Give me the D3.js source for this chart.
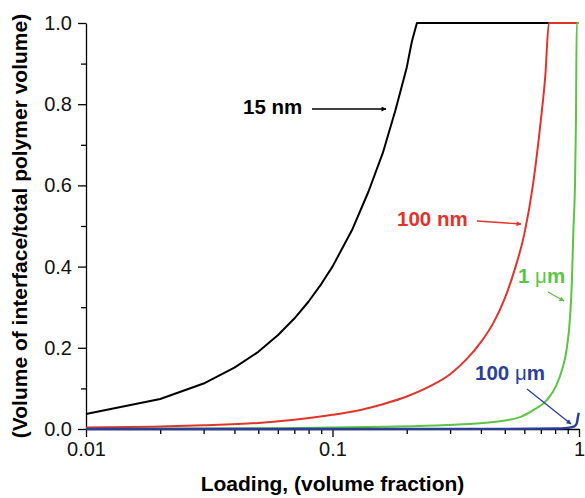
<!DOCTYPE html>
<html>
<head>
<meta charset="utf-8">
<script src="https://cdn.jsdelivr.net/npm/d3@7"></script>
<style>
  body { margin: 0; background: #fff; }
  svg text { font-family: "Liberation Sans", Arial, Helvetica, sans-serif; }
</style>
</head>
<body>
<div id="chart"></div>
<script>
// loading (volume fraction) and interface fraction
let loading15nm = [0.01, 0.02, 0.03, 0.04, 0.05, 0.06, 0.07, 0.08, 0.09, 0.1, 0.12, 0.14, 0.16, 0.18, 0.2, 0.21, 0.22, 1];
let value15nm   = [0.037, 0.074, 0.112, 0.151, 0.19, 0.231, 0.272, 0.314, 0.357, 0.40, 0.49, 0.585, 0.68, 0.785, 0.89, 0.955, 1, 1];

let loading100nm = [0.01, 0.02, 0.03, 0.05, 0.07, 0.1, 0.13, 0.16, 0.2, 0.25, 0.3, 0.35, 0.4, 0.45, 0.5, 0.55, 0.6, 0.65, 0.7, 0.73, 0.755, 1];
let value100nm   = [0.004, 0.006, 0.009, 0.015, 0.023, 0.035, 0.047, 0.061, 0.08, 0.106, 0.135, 0.172, 0.214, 0.262, 0.322, 0.395, 0.48, 0.6, 0.76, 0.87, 1, 1];

let loading1um = [0.01, 0.06, 0.16, 0.29, 0.46, 0.58, 0.65, 0.74, 0.81, 0.86, 0.89, 0.92, 0.935, 0.948, 0.963, 0.972, 0.979, 1];
let value1um   = [0.0003, 0.002, 0.0055, 0.01, 0.018, 0.03, 0.046, 0.071, 0.108, 0.153, 0.194, 0.276, 0.358, 0.481, 0.6, 0.76, 1, 1];

let loading100um = [0.01, 0.5, 0.8, 0.9, 0.95, 0.97, 0.98, 0.99, 0.998];
let value100um   = [0, 0.0003, 0.0012, 0.0027, 0.0057, 0.0097, 0.0147, 0.0297, 0.04];

let xMajorTicks = [0.01, 0.1, 1];
let xMinorTicks = [0.02, 0.03, 0.04, 0.05, 0.06, 0.07, 0.08, 0.09, 0.2, 0.3, 0.4, 0.5, 0.6, 0.7, 0.8, 0.9];
let yMajorTicks = [0, 0.2, 0.4, 0.6, 0.8, 1.0];
let yMinorTicks = [0.1, 0.3, 0.5, 0.7, 0.9];

let W = 585, H = 498;
let margin = {top: 23, right: 6, bottom: 69, left: 86};

let svg = d3.select("#chart").append("svg")
	.attr("width", W)
	.attr("height", H);

let x = d3.scaleLog().domain([0.01, 1]).range([margin.left, W - margin.right]);
let y = d3.scaleLinear().domain([0, 1]).range([H - margin.bottom, margin.top]);

// axes
svg.append("g")
	.attr("transform", `translate(0,${H - margin.bottom})`)
	.call(d3.axisBottom(x).tickValues(xMajorTicks).tickFormat(d3.format("")).tickSize(8).tickSizeOuter(0).tickPadding(5));
svg.append("g")
	.attr("transform", `translate(0,${H - margin.bottom})`)
	.call(d3.axisBottom(x).tickValues(xMinorTicks).tickFormat("").tickSize(5).tickSizeOuter(0))
	.call(g => g.select(".domain").remove());

svg.append("g")
	.attr("transform", `translate(${margin.left},0)`)
	.call(d3.axisLeft(y).tickValues(yMajorTicks).tickFormat(d3.format(".1f")).tickSize(8).tickSizeOuter(0).tickPadding(6));
svg.append("g")
	.attr("transform", `translate(${margin.left},0)`)
	.call(d3.axisLeft(y).tickValues(yMinorTicks).tickFormat("").tickSize(5).tickSizeOuter(0))
	.call(g => g.select(".domain").remove());

svg.selectAll(".domain, .tick line").attr("stroke", "#000").attr("stroke-width", 1.3);
svg.selectAll(".tick text").attr("font-size", 20).attr("fill", "#111")
	.attr("font-family", "'Liberation Sans', Arial, sans-serif");

svg.append("text")
	.attr("x", (margin.left + W - margin.right) / 2)
	.attr("y", 491)
	.attr("text-anchor", "middle")
	.attr("font-size", 21)
	.attr("font-weight", "bold")
	.text("Loading, (volume fraction)");

svg.append("text")
	.attr("transform", `translate(27,${(margin.top + H - margin.bottom) / 2}) rotate(-90)`)
	.attr("text-anchor", "middle")
	.attr("font-size", 21)
	.attr("font-weight", "bold")
	.text("(Volume of interface/total polymer volume)");

// curves
let series = [
	{xs: loading15nm, ys: value15nm, color: "#000000", curve: d3.curveLinear, w: 2},
	{xs: loading100nm, ys: value100nm, color: "#e2332b", curve: d3.curveMonotoneX, w: 2},
	{xs: loading1um, ys: value1um, color: "#5cc443", curve: d3.curveMonotoneX, w: 2},
	{xs: loading100um, ys: value100um, color: "#2c3f98", curve: d3.curveMonotoneX, w: 2.4}
];

let line = d3.line()
	.x(d => x(d[0]))
	.y(d => y(d[1]));

for (let s of series) {
	let pts = s.xs.map((v, i) => [v, s.ys[i]]);
	svg.append("path")
		.datum(pts)
		.attr("fill", "none")
		.attr("stroke", s.color)
		.attr("stroke-width", s.w)
		.attr("stroke-linejoin", "round")
		.attr("d", line.curve(s.curve));
}

// labels with arrows
let defs = svg.append("defs");
let labels = [
	{id: "k", color: "#000000", text: ["15 nm"], tx: 243, ty: 114, a: [312, 109, 386, 109]},
	{id: "r", color: "#e2332b", text: ["100 nm"], tx: 397, ty: 226, a: [477, 221, 521, 224]},
	{id: "g", color: "#5cc443", text: ["1 ", "\u03bc", "m"], tx: 518, ty: 283, a: [548, 292, 564, 301]},
	{id: "b", color: "#2c3f98", text: ["100 ", "\u03bc", "m"], tx: 475, ty: 380, a: [527, 389, 571, 424]}
];

for (let l of labels) {
	defs.append("marker")
		.attr("id", "arrow-" + l.id)
		.attr("viewBox", "0 0 10 10")
		.attr("refX", 9).attr("refY", 5)
		.attr("markerWidth", 7).attr("markerHeight", 5)
		.attr("markerUnits", "userSpaceOnUse")
		.attr("orient", "auto")
		.append("path")
		.attr("d", "M0,0L10,5L0,10Z")
		.attr("fill", l.color);

	let t = svg.append("text")
		.attr("x", l.tx).attr("y", l.ty)
		.attr("font-size", 20.5)
		.attr("font-weight", "bold")
		.attr("fill", l.color);
	l.text.forEach((s) => {
		t.append("tspan")
			.attr("font-weight", s === "\u03bc" ? "normal" : "bold")
			.text(s);
	});

	svg.append("line")
		.attr("x1", l.a[0]).attr("y1", l.a[1])
		.attr("x2", l.a[2]).attr("y2", l.a[3])
		.attr("stroke", l.color)
		.attr("stroke-width", 1.3)
		.attr("marker-end", `url(#arrow-${l.id})`);
}
</script>
</body>
</html>
